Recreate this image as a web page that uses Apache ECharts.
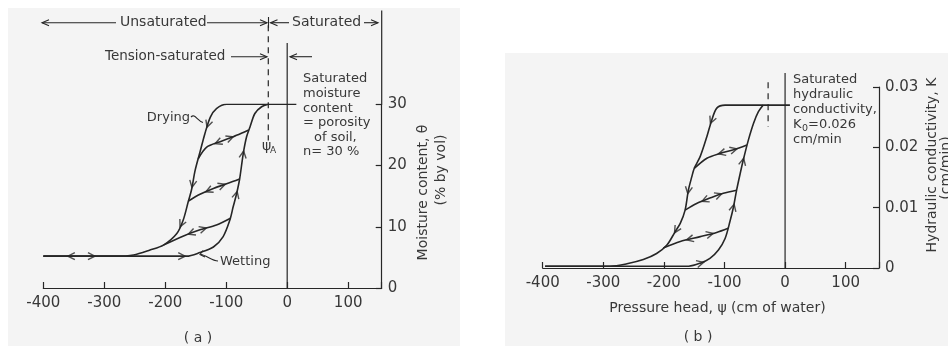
<!DOCTYPE html>
<html><head><meta charset="utf-8">
<script src="https://cdn.jsdelivr.net/npm/echarts@6/dist/echarts.min.js"></script>
<style>html,body{margin:0;padding:0;background:#fff}#c{width:948px;height:348px}</style>
</head><body><div id="c"></div>
<script>
// ---------- data ----------
const xTickLabels = [-400, -300, -200, -100, 0, 100];
const yTicksA = [0, 10, 20, 30];
const yTicksB = [0, 0.01, 0.02, 0.03];

// (a) moisture content theta (% by vol) vs pressure head psi (cm)
const dryA = [[15,30],[-99,30],[-116,29.3],[-126,27.9],[-135,25.2],[-143,22.2],[-151,19.2],[-157,16.0],[-162,14.2],[-170.5,11.1],[-181,8.9],[-203,7.0],[-225,6.2],[-252,5.4],[-280,5.2],[-400,5.2]];
const wetA = [[-400,5.2],[-165,5.2],[-143,5.8],[-121,6.7],[-105,8.4],[-94,11.1],[-88.5,13.3],[-83,15.4],[-78,17.8],[-72,22.0],[-66.6,24.7],[-61,26.3],[-53,28.5],[-42,29.6],[-31,30]];
const scan1A = [[-146,21.1],[-132,23.0],[-110,23.9],[-88.5,24.7],[-72,25.4],[-63,25.8]];
const scan2A = [[-162,14.2],[-143,15.3],[-120,16.3],[-97,17.1],[-78,17.8]];
const scan3A = [[-203,7.0],[-170,8.5],[-143,9.5],[-116,10.3],[-93,11.4]];
const zeroLineA = [[0,0],[0,40]];
const axisExtA = [[155,30],[155,45.3]];
const psiALine = [[-31,42.9],[-31,24.1]];

// (b) hydraulic conductivity K (cm/min) vs pressure head psi (cm)
const dryB = [[8,0.0270],[-99,0.0270],[-112.7,0.0265],[-121,0.0245],[-129,0.0218],[-140,0.0185],[-150,0.0165],[-154,0.0151],[-159.6,0.0129],[-165,0.0096],[-173,0.0074],[-181.5,0.0060],[-195,0.0038],[-212,0.0024],[-234,0.0014],[-261,0.0007],[-289,0.0003],[-396,0.0003]];
const wetB = [[-396,0.0003],[-159,0.0003],[-140,0.0008],[-124,0.0016],[-110,0.0030],[-99,0.0049],[-91,0.0077],[-85,0.0102],[-80,0.0129],[-74,0.0157],[-69,0.0179],[-60.6,0.0212],[-52,0.0240],[-44,0.0259],[-36,0.0270]];
const scan1B = [[-150,0.0165],[-129,0.0182],[-107,0.0190],[-85,0.0196],[-63,0.0204]];
const scan2B = [[-165,0.0096],[-146,0.0107],[-124,0.0116],[-102,0.0124],[-80,0.0129]];
const scan3B = [[-201,0.0033],[-173,0.0044],[-140,0.0052],[-113,0.0059],[-94,0.0066]];
const zeroLineB = [[0,0],[0,0.0323]];
const psiBLine = [[-28,0.0308],[-28,0.0234]];

// arrow heads on curves: [psi, value, direction (+1 toward larger psi, -1 toward smaller)]
const arrowsDryA = [[-130,26.8,-1],[-156,17.0,-1],[-173,10.5,-1]];
const arrowsWetA = [[-354,5.2,-1],[-321,5.2,1],[-173,5.2,1],[-83,15.2,1],[-72,21.8,1]];
const arrowsScan1A = [[-113,23.8,-1],[-94,24.5,1]];
const arrowsScan2A = [[-128,15.9,-1],[-107,16.7,1]];
const arrowsScan3A = [[-157,9.0,-1],[-138,9.6,1]];
const arrowsDryB = [[-121,0.0245,-1],[-160,0.0129,-1],[-179,0.0063,-1]];
const arrowsWetB = [[-140,0.0008,1],[-85,0.0100,1],[-69,0.0176,1]];
const arrowsScan1B = [[-104,0.0190,-1],[-85,0.0196,1]];
const arrowsScan2B = [[-132,0.0113,-1],[-110,0.0121,1]];
const arrowsScan3B = [[-157,0.0048,-1],[-124,0.0055,1]];

// ---------- chart ----------
const FONT = '"DejaVu Sans"';
const INK = '#262626';
const TXT = '#383838';
const chart = echarts.init(document.getElementById('c'), null, {renderer: 'canvas'});

function curve(data, g, extra) {
  return Object.assign({type: 'line', data, xAxisIndex: g, yAxisIndex: g, smooth: 0.3, symbol: 'none',
    lineStyle: {color: INK, width: 1.6}, silent: true, animation: false, z: 3}, extra || {});
}
function guide(data, g, dashed) {
  return curve(data, g, {smooth: false, clip: false, lineStyle: {color: INK, width: 1.2, type: dashed ? [6, 5] : 'solid'}});
}
function xAxis(g) {
  return {type: 'value', gridIndex: g, min: -400, max: 155, interval: 100,
    axisLine: {show: true, onZero: false, lineStyle: {color: INK, width: 1.2}},
    axisTick: {show: true, inside: true, length: 6, lineStyle: {color: INK, width: 1.2}},
    splitLine: {show: false},
    axisLabel: {color: TXT, fontFamily: 'DejaVu Sans', fontSize: 15, margin: 8,
      formatter: v => xTickLabels.indexOf(Math.round(v)) >= 0 ? String(Math.round(v)) : ''}};
}
function yAxis(g, ticks, fmt) {
  return {type: 'value', gridIndex: g, position: 'right', min: ticks[0], max: ticks[ticks.length - 1],
    interval: ticks[1] - ticks[0],
    axisLine: {show: true, onZero: false, lineStyle: {color: INK, width: 1.2}},
    axisTick: {show: true, inside: true, length: 6, lineStyle: {color: INK, width: 1.2}},
    splitLine: {show: false},
    axisLabel: {color: TXT, fontFamily: 'DejaVu Sans', fontSize: 15, margin: 6, formatter: fmt}};
}

// graphic annotations (pixel placed)
const G = [];
function txt(x, y, text, size, align, rot) {
  G.push({type: 'text', x, y, rotation: rot || 0, silent: true, z: 10,
    style: {text, fill: TXT, font: size + 'px ' + FONT, textAlign: align || 'left', textVerticalAlign: 'middle',
      align: align || 'left', verticalAlign: 'middle'}});
}
function seg(x1, y1, x2, y2, w) {
  G.push({type: 'line', silent: true, z: 10, shape: {x1, y1, x2, y2}, style: {stroke: INK, lineWidth: w || 1.1}});
}
function head(x, y, dir) { // open arrow head with tip at (x,y)
  const s = dir === 'r' ? -1 : 1;
  G.push({type: 'polyline', silent: true, z: 10, shape: {points: [[x + s * 7, y - 3], [x, y], [x + s * 7, y + 3]]},
    style: {stroke: INK, lineWidth: 1.1, fill: null}});
}
function multiline(x, y0, lines, size, lh) {
  lines.forEach((l, i) => txt(x + (l.dx || 0), y0 + i * lh, l.t, size));
}
// panel backgrounds
G.push({type: 'rect', z: -10, silent: true, shape: {x: 8, y: 8, width: 452, height: 338}, style: {fill: '#f4f4f4'}});
G.push({type: 'rect', z: -10, silent: true, shape: {x: 505, y: 53, width: 443, height: 293}, style: {fill: '#f4f4f4'}});
// (a) top annotations
head(42, 22.7, 'l'); seg(42, 22.7, 116, 22.7); txt(120, 22.7, 'Unsaturated', 14);
seg(207, 22.7, 267, 22.7); head(267, 22.7, 'r'); seg(268.5, 17, 268.5, 28);
head(270.5, 22.7, 'l'); seg(270.5, 22.7, 289, 22.7); txt(292, 22.7, 'Saturated', 14);
seg(364, 22.7, 378, 22.7); head(378, 22.7, 'r');
txt(105, 56.7, 'Tension-saturated', 13.5); seg(231, 56.7, 267, 56.7); head(267, 56.7, 'r');
seg(290, 56.7, 312, 56.7); head(290, 56.7, 'l');
multiline(303, 79, [{t: 'Saturated'}, {t: 'moisture'}, {t: 'content'}, {t: '= porosity'}, {t: 'of soil,', dx: 11}, {t: 'n= 30 %'}], 13, 14.6);
txt(262, 146, 'ψ', 14); txt(270, 151, 'A', 9);
// Drying / Wetting labels with leaders
txt(190, 117.5, 'Drying', 13, 'right');
G.push({type: 'bezierCurve', silent: true, z: 10, shape: {x1: 191, y1: 117, x2: 203, y2: 122.5, cpx1: 195, cpy1: 113, cpx2: 197, cpy2: 121}, style: {stroke: INK, lineWidth: 1.1, fill: null}});
txt(220, 261.5, 'Wetting', 13);
G.push({type: 'bezierCurve', silent: true, z: 10, shape: {x1: 218, y1: 261, x2: 201, y2: 254.5, cpx1: 212, cpy1: 261, cpx2: 206, cpy2: 255}, style: {stroke: INK, lineWidth: 1.1, fill: null}});
G.push({type: 'polyline', silent: true, z: 10, shape: {points: [[203, 250.5], [200, 254.5], [205, 257]]}, style: {stroke: INK, lineWidth: 1.1, fill: null}});
// (a) axis title & caption
txt(423, 192.5, 'Moisture content, θ', 14, 'center', Math.PI / 2);
txt(441, 170, '(% by vol)', 14, 'center', Math.PI / 2);
txt(198, 338, '( a )', 14, 'center');
// (b) annotations
multiline(793, 80, [{t: 'Saturated'}, {t: 'hydraulic'}, {t: 'conductivity,'}], 13, 15);
txt(793, 125, 'K', 13); txt(802, 129, '0', 9.5); txt(808, 125, '=0.026', 13);
txt(793, 140, 'cm/min', 13);
txt(932, 165, 'Hydraulic conductivity, K', 14, 'center', Math.PI / 2);
txt(946, 168, '(cm/min)', 14, 'center', Math.PI / 2);
txt(717.5, 308.5, 'Pressure head, ψ (cm of water)', 14, 'center');
txt(698, 337, '( b )', 14, 'center');

const arrowSpecs = [
  [dryA, arrowsDryA, 0], [wetA, arrowsWetA, 0], [scan1A, arrowsScan1A, 0], [scan2A, arrowsScan2A, 0], [scan3A, arrowsScan3A, 0],
  [dryB, arrowsDryB, 1], [wetB, arrowsWetB, 1], [scan1B, arrowsScan1B, 1], [scan2B, arrowsScan2B, 1], [scan3B, arrowsScan3B, 1]
];
function arrowSeries(g, data) {
  return {type: 'scatter', xAxisIndex: g, yAxisIndex: g, symbol: 'path://M0,10L5,0L10,10', symbolSize: [7, 7],
    itemStyle: {color: 'rgba(0,0,0,0)', borderColor: INK, borderWidth: 1.4}, data, silent: true, z: 5, animation: false};
}

const option = {
  animation: false,
  backgroundColor: '#ffffff',
  textStyle: {fontFamily: 'DejaVu Sans'},
  grid: [
    {left: 43.3, right: 566.3, top: 104.3, bottom: 60, containLabel: false, outerBoundsMode: 'none'},
    {left: 542.7, right: 69, top: 87, bottom: 80, containLabel: false, outerBoundsMode: 'none'}
  ],
  xAxis: [xAxis(0), xAxis(1)],
  yAxis: [
    yAxis(0, yTicksA, v => String(v)),
    yAxis(1, yTicksB, v => v === 0 ? '0' : v.toFixed(2))
  ],
  series: [
    curve(dryA, 0), curve(wetA, 0), curve(scan1A, 0), curve(scan2A, 0), curve(scan3A, 0),
    guide(zeroLineA, 0), guide(axisExtA, 0), guide(psiALine, 0, true),
    curve(dryB, 1), curve(wetB, 1), curve(scan1B, 1), curve(scan2B, 1), curve(scan3B, 1),
    guide(zeroLineB, 1), guide(psiBLine, 1, true),
    arrowSeries(0, []), arrowSeries(1, [])
  ],
  graphic: {elements: G}
};
chart.setOption(option);

function buildArrows() {
  const items = [[], []];
  arrowSpecs.forEach(([crv, specs, g]) => {
    const pts = crv.map(p => chart.convertToPixel({gridIndex: g}, p));
    specs.forEach(([x, y, s]) => {
      const q = chart.convertToPixel({gridIndex: g}, [x, y]);
      let best = null;
      for (let i = 0; i < pts.length - 1; i++) {
        const a = pts[i], b = pts[i + 1];
        const dx = b[0] - a[0], dy = b[1] - a[1], L2 = dx * dx + dy * dy;
        if (!L2) continue;
        let t = ((q[0] - a[0]) * dx + (q[1] - a[1]) * dy) / L2;
        t = Math.max(0, Math.min(1, t));
        const px = a[0] + t * dx, py = a[1] + t * dy;
        const d = (px - q[0]) ** 2 + (py - q[1]) ** 2;
        if (!best || d < best.d) best = {d, px, py, dx, dy};
      }
      let dx = best.dx, dy = best.dy;
      if (dx * s < 0) { dx = -dx; dy = -dy; }
      const ang = Math.atan2(-dy, dx) * 180 / Math.PI;
      items[g].push({value: chart.convertFromPixel({gridIndex: g}, [best.px, best.py]), symbolRotate: ang - 90});
    });
  });
  return items;
}
const arr = buildArrows();
const s = option.series;
s[s.length - 2].data = arr[0];
s[s.length - 1].data = arr[1];
chart.setOption({series: s});
</script>
</body></html>
